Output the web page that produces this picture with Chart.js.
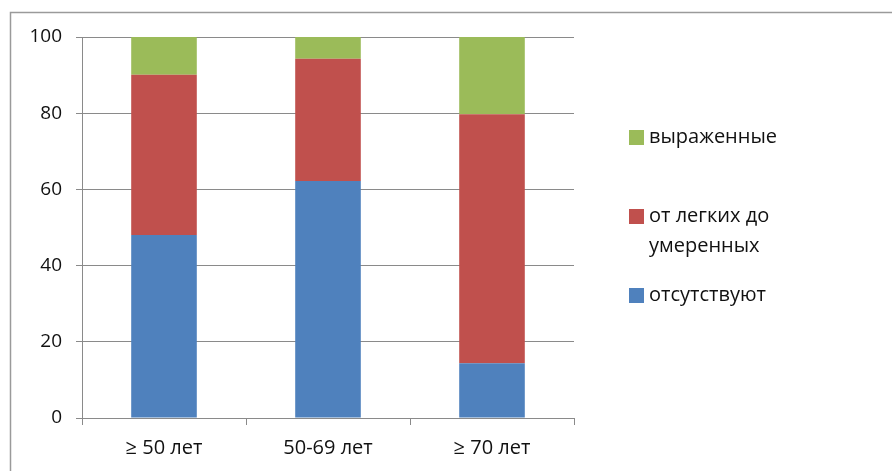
<!DOCTYPE html>
<html>
<head>
<meta charset="utf-8">
<script src="https://cdn.jsdelivr.net/npm/chart.js@4/dist/chart.umd.min.js"></script>
<style>
  html, body { margin: 0; padding: 0; background: #fff; }
  #wrap { position: relative; width: 892px; height: 471px; }
</style>
</head>
<body>
<div id="wrap"><canvas id="c" width="892" height="471"></canvas></div>
<script>
// Age groups and share of patients (%) by severity
const categories = ['≥ 50 лет', '50-69 лет', '≥ 70 лет'];
const absent = [48.0, 62.2, 14.4];        // отсутствуют
const mildModerate = [42.1, 32.1, 65.3];  // от легких до умеренных
const severe = [9.9, 5.7, 20.3];          // выраженные
const yTicks = [0, 20, 40, 60, 80, 100];

const FONT = '"Open Sans", "Noto Sans", sans-serif';
const TEXT = '#111111';
const GRID = '#8a8a8a';

// Outer frame lines of the chart block
const framePlugin = {
  id: 'frame',
  beforeDraw(chart) {
    const ctx = chart.ctx;
    ctx.save();
    ctx.strokeStyle = '#9a9a9a';
    ctx.lineWidth = 1.5;
    ctx.beginPath();
    ctx.moveTo(10.5, chart.height);
    ctx.lineTo(10.5, 12.5);
    ctx.lineTo(chart.width, 12.5);
    ctx.stroke();
    ctx.restore();
  }
};

// Legend at the right, top item = top of the stack, long labels wrapped
const sideLegend = {
  id: 'sideLegend',
  afterDraw(chart) {
    const ctx = chart.ctx;
    const sets = chart.data.datasets.slice().reverse();
    const box = 15, x0 = 629, textX = 649, maxW = 150, lineH = 30, step = 79;
    ctx.save();
    ctx.font = '20px ' + FONT;
    ctx.textBaseline = 'middle';
    ctx.fillStyle = TEXT;
    let y = 137;
    sets.forEach(ds => {
      ctx.fillStyle = ds.backgroundColor;
      ctx.fillRect(x0, Math.round(y - box / 2), box, box);
      // simple word wrap
      const words = ds.label.split(' ');
      const lines = [];
      let cur = '';
      words.forEach(w => {
        const t = cur ? cur + ' ' + w : w;
        if (ctx.measureText(t).width > maxW && cur) { lines.push(cur); cur = w; }
        else cur = t;
      });
      lines.push(cur);
      ctx.fillStyle = TEXT;
      lines.forEach((l, i) => ctx.fillText(l, textX, y + i * lineH));
      y += step;
    });
    ctx.restore();
  }
};

new Chart(document.getElementById('c'), {
  type: 'bar',
  data: {
    labels: categories,
    datasets: [
      { label: 'отсутствуют', data: absent, backgroundColor: '#4F81BD' },
      { label: 'от легких до умеренных', data: mildModerate, backgroundColor: '#C0504D' },
      { label: 'выраженные', data: severe, backgroundColor: '#9BBB59' }
    ]
  },
  options: {
    responsive: false,
    animation: false,
    devicePixelRatio: 1,
    layout: { padding: { left: 0, right: 318, top: 37, bottom: 13 } },
    datasets: { bar: { barPercentage: 0.4, categoryPercentage: 1.0, borderWidth: 0 } },
    plugins: { legend: { display: false }, tooltip: { enabled: false } },
    scales: {
      x: {
        stacked: true,
        afterFit(s) { s.height = 40; },
        grid: { drawOnChartArea: false, drawTicks: true, tickLength: 7, color: GRID, lineWidth: 1 },
        border: { display: true, color: GRID, width: 1 },
        ticks: { color: TEXT, font: { family: FONT, size: 20 }, padding: 11 }
      },
      y: {
        stacked: true,
        min: 0, max: 100,
        afterFit(s) { s.width = 82; },
        afterBuildTicks(s) { s.ticks = yTicks.map(v => ({ value: v })); },
        grid: { color: GRID, lineWidth: 1, tickLength: 6, drawTicks: true },
        border: { display: true, color: GRID, width: 1 },
        ticks: { color: TEXT, font: { family: FONT, size: 19 }, padding: 14 }
      }
    }
  },
  plugins: [framePlugin, sideLegend]
});
</script>
</body>
</html>
